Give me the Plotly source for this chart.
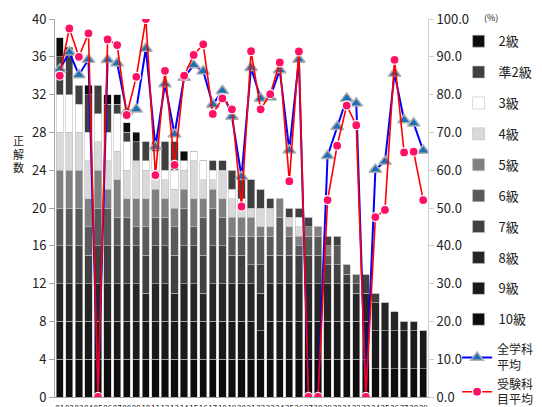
import plotly.graph_objects as go

students = ["01","02","03","04","05","06","07","08","09","10","11","12","13",
            "14","15","16","17","18","19","20","21","22","23","24","25","26",
            "27","28","29","30","31","32","33","34","35","36","37","38","39"]

g10  = [4,4,4,4,4,4,4,4,4,4,4,4,4, 4,4,4,4,4,4,4,4,4,4,4,4,4, 4,4,4,4,4,4,4,3,3,3,3,3,3]
g9   = [4,4,4,4,4,4,4,4,4,4,4,4,4, 4,4,4,4,4,4,4,4,3,4,4,4,4, 4,4,4,4,4,4,4,4,4,4,4,4,4]
g8   = [4,4,4,4,4,4,4,4,4,3,4,4,3, 4,4,3,4,4,4,4,4,4,4,4,4,4, 4,4,4,4,4,3,3,3,3,2,1,1,0]
g7   = [4,4,4,3,4,4,4,4,4,4,4,4,4, 4,4,4,4,4,3,3,2,3,3,3,3,3, 3,3,2,2,1,1,2,1,0,0,0,0,0]
g6   = [4,4,4,3,4,4,3,3,2,3,3,3,3, 4,2,4,4,3,2,2,3,3,2,4,2,1, 2,2,1,2,1,1,0,0,0,0,0,0,0]
g5   = [4,4,4,3,4,2,4,2,3,3,3,2,2, 2,3,2,2,2,2,2,2,1,1,2,1,1, 1,1,1,0,0,0,0,0,0,0,0,0,0]
g4   = [4,4,4,4,3,3,3,3,4,3,2,2,2, 2,4,2,1,3,2,1,1,2,2,0,1,1, 0,0,0,0,0,0,0,0,0,0,0,0,0]
g3   = [4,4,3,3,3,3,4,3,0,1,2,1,2, 1,1,2,1,0,1,1,0,0,0,0,0,1, 0,0,0,0,0,0,0,0,0,0,0,0,0]
gp2  = [4,4,2,4,3,3,1,1,2,2,1,3,3, 0,0,0,1,1,2,2,3,2,1,0,1,1, 1,0,1,1,0,0,0,0,0,0,0,0,0]
g2   = [2,1,0,1,0,1,1,1,1,0,0,0,0, 1,0,0,0,0,0,0,0,0,0,0,0,0, 0,0,0,0,0,0,0,0,0,0,0,0,0]

all_avg  = [86.7,91.2,85.2,89.3,0,89.2,88.3,75.5,76.1,92.2,66.2,82.8,69.5,
            84.5,87.8,86.2,77.4,81.0,74.2,58.3,87.1,79.0,79.3,86.5,65.3,89.3,
            0,0,63.8,71.5,79.0,77.7,0,60.2,62.3,85.6,73.3,72.4,65.2]
subj_avg = [85.0,97.5,90.0,96.2,0,94.6,93.1,74.6,84.7,100.0,58.7,86.3,61.4,
            85.0,90.5,93.3,74.9,79.0,76.1,50.4,91.5,76.1,80.1,88.5,57.1,91.4,
            0,0,52.1,66.5,77.1,71.9,0,47.6,49.5,89.2,64.7,64.9,52.1]

grade_names = ["10級","9級","8級","7級","6級","5級","4級","3級","準2級","2級"]
grade_vals = [g10,g9,g8,g7,g6,g5,g4,g3,gp2,g2]
grade_cols = ["#0d0d0d","#1a1a1a","#262626","#404040","#595959","#808080",
              "#d9d9d9","#ffffff","#404040","#0d0d0d"]

FONT = "Noto Sans CJK JP"
fig = go.Figure()
for i, (nm, vals, col) in enumerate(zip(grade_names, grade_vals, grade_cols)):
    fig.add_trace(go.Bar(
        x=students, y=vals, name=nm, marker_color=col,
        marker_line=dict(color="#bfbfbf", width=0.6),
        legendgroup=nm, legendrank=10 - i, legend="legend",
    ))

fig.add_trace(go.Scatter(
    x=students, y=all_avg, yaxis="y2", name="全学科<br>平均", mode="lines+markers",
    line=dict(color="#0000ff", width=2),
    marker=dict(symbol="triangle-up", size=11, color="#1f6fb5",
                line=dict(color="#b0b0b0", width=1.5)),
    legend="legend2", legendrank=1,
))
fig.add_trace(go.Scatter(
    x=students, y=subj_avg, yaxis="y2", name="受験科<br>目平均", mode="lines+markers",
    line=dict(color="#ff0000", width=1.6),
    marker=dict(symbol="circle", size=9, color="#ff0f66",
                line=dict(color="#ffffff", width=1.2)),
    legend="legend2", legendrank=2,
))

# page body has an 8px margin: figure is sized/offset to compensate
fig.update_layout(
    width=534, height=399,
    margin=dict(l=47, r=114, t=11, b=10, autoexpand=False),
    barmode="stack", bargap=0.24,
    plot_bgcolor="white", paper_bgcolor="white",
    font=dict(family=FONT, size=12, color="#222222"),
    showlegend=True,
    legend=dict(x=1.082, y=0.981, xanchor="left", yanchor="top",
                traceorder="grouped", tracegroupgap=11,
                font=dict(size=13, family=FONT), itemwidth=30,
                bgcolor="rgba(0,0,0,0)"),
    legend2=dict(x=1.078, y=0.163, xanchor="left", yanchor="top",
                 traceorder="normal", tracegroupgap=0,
                 font=dict(size=12, family=FONT), itemwidth=30,
                 bgcolor="rgba(0,0,0,0)"),
    xaxis=dict(range=[-0.5, 38.5], showline=True, linecolor="#a6a6a6",
               ticks="", tickfont=dict(size=8), showgrid=False,
               tickmode="linear", dtick=1, tickangle=0, automargin=False,
               ticklabelstandoff=3),
    yaxis=dict(range=[0, 40], dtick=4, showline=True, linecolor="#a6a6a6",
               ticks="outside", ticklen=5, tickcolor="#a6a6a6", automargin=False,
               showgrid=False, zeroline=False, tickfont=dict(size=13)),
    yaxis2=dict(range=[0, 100], dtick=10, overlaying="y", side="right",
                showline=True, linecolor="#d0d0d0", ticks="outside", ticklen=5,
                tickcolor="#d0d0d0", tickformat=".1f", showgrid=False,
                automargin=False, zeroline=False, tickfont=dict(size=13)),
)

for ch, yy in zip(["正", "解", "数"], [0.680, 0.644, 0.608]):
    fig.add_annotation(text=ch, xref="paper", yref="paper",
                       x=-0.099, xanchor="center", y=yy, yanchor="middle",
                       showarrow=False, font=dict(size=11, family=FONT))
fig.add_annotation(text="(%)", xref="paper", yref="paper",
                   x=1.168, xanchor="center", y=1.003, yanchor="middle",
                   showarrow=False, font=dict(size=9, family=FONT))

fig.write_html("out.html")
